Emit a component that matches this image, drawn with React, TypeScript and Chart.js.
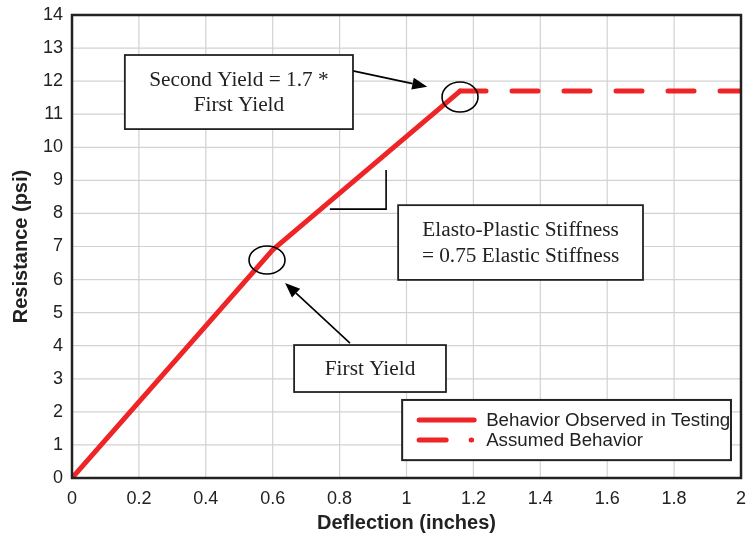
import React, { useEffect, useRef } from "react";
import { Chart, registerables } from "chart.js";

Chart.register(...registerables);

// Data (deflection in inches, resistance in psi)
const observedX = [0, 0.6, 1.16];
const observedY = [0, 6.9, 11.7];
const assumedX = [1.16, 2];
const assumedY = [11.7, 11.7];

const xTickValues = [0, 0.2, 0.4, 0.6, 0.8, 1, 1.2, 1.4, 1.6, 1.8, 2];
const yTickValues = [0, 1, 2, 3, 4, 5, 6, 7, 8, 9, 10, 11, 12, 13, 14];

const seriesNames = ["Behavior Observed in Testing", "Assumed Behavior"];
const box1Lines = ["Second Yield = 1.7 *", "First Yield"];
const box2Lines = ["Elasto-Plastic Stiffness", "= 0.75 Elastic Stiffness"];
const box3Lines = ["First Yield"];

const RED = "#ee2427";
const INK = "#222222";
const GRID = "#d2d2d2";
const SANS = "'Liberation Sans', Arial, sans-serif";
const SERIF = "'Liberation Serif', 'Times New Roman', serif";

const gridPlugin = {
  id: "manualGrid",
  beforeDatasetsDraw(chart: any) {
    const ctx = chart.ctx as CanvasRenderingContext2D;
    const xs = chart.scales.x;
    const ys = chart.scales.y;
    const a = chart.chartArea;
    ctx.save();
    ctx.strokeStyle = GRID;
    ctx.lineWidth = 1.2;
    ctx.beginPath();
    xTickValues.forEach((v) => {
      const px = xs.getPixelForValue(v);
      ctx.moveTo(px, a.top);
      ctx.lineTo(px, a.bottom);
    });
    yTickValues.forEach((v) => {
      const py = ys.getPixelForValue(v);
      ctx.moveTo(a.left, py);
      ctx.lineTo(a.right, py);
    });
    ctx.stroke();
    ctx.restore();
  },
};

const annotationPlugin = {
  id: "annots",
  afterDraw(chart: any) {
    const ctx = chart.ctx as CanvasRenderingContext2D;
    const xs = chart.scales.x;
    const ys = chart.scales.y;
    const X = (v: number) => xs.getPixelForValue(v);
    const Y = (v: number) => ys.getPixelForValue(v);
    const area = chart.chartArea;
    ctx.save();

    // Plot border
    ctx.strokeStyle = INK;
    ctx.lineWidth = 2.5;
    ctx.strokeRect(area.left, area.top, area.right - area.left, area.bottom - area.top);

    const box = (x0: number, y0: number, x1: number, y1: number, lines: string[], lh: number) => {
      const l = X(x0), r = X(x1), t = Y(y0), b = Y(y1);
      ctx.fillStyle = "#ffffff";
      ctx.fillRect(l, t, r - l, b - t);
      ctx.strokeStyle = INK;
      ctx.lineWidth = 1.8;
      ctx.strokeRect(l, t, r - l, b - t);
      ctx.fillStyle = INK;
      ctx.font = `21.3px ${SERIF}`;
      ctx.textAlign = "center";
      ctx.textBaseline = "middle";
      const cx = (l + r) / 2;
      const cy = (t + b) / 2;
      const start = cy - ((lines.length - 1) * lh) / 2;
      lines.forEach((s, i) => ctx.fillText(s, cx, start + i * lh + 1));
    };

    const arrow = (x0: number, y0: number, x1: number, y1: number) => {
      const ax = X(x0), ay = Y(y0), bx = X(x1), by = Y(y1);
      const ang = Math.atan2(by - ay, bx - ax);
      const hl = 15, hw = 6;
      const baseX = bx - hl * Math.cos(ang);
      const baseY = by - hl * Math.sin(ang);
      ctx.strokeStyle = "#000";
      ctx.lineWidth = 1.6;
      ctx.beginPath();
      ctx.moveTo(ax, ay);
      ctx.lineTo(baseX, baseY);
      ctx.stroke();
      ctx.fillStyle = "#000";
      ctx.beginPath();
      ctx.moveTo(bx, by);
      ctx.lineTo(baseX + hw * Math.sin(ang), baseY - hw * Math.cos(ang));
      ctx.lineTo(baseX - hw * Math.sin(ang), baseY + hw * Math.cos(ang));
      ctx.closePath();
      ctx.fill();
    };

    const ellipse = (x: number, y: number, rx: number, ry: number) => {
      ctx.strokeStyle = "#000";
      ctx.lineWidth = 1.6;
      ctx.beginPath();
      ctx.ellipse(X(x), Y(y), rx, ry, 0, 0, Math.PI * 2);
      ctx.stroke();
    };

    // Circles at yield points
    ellipse(1.16, 11.52, 18, 15);
    ellipse(0.583, 6.59, 18, 14);

    // Right-angle stiffness marker
    ctx.strokeStyle = "#000";
    ctx.lineWidth = 1.6;
    ctx.beginPath();
    ctx.moveTo(X(0.939), Y(9.31));
    ctx.lineTo(X(0.939), Y(8.13));
    ctx.lineTo(X(0.771), Y(8.13));
    ctx.stroke();

    // Arrows
    arrow(0.84, 12.31, 1.062, 11.83);
    arrow(0.831, 4.08, 0.637, 5.9);

    // Text boxes
    box(0.158, 12.79, 0.84, 10.55, box1Lines, 25);
    box(0.975, 8.25, 1.707, 5.99, box2Lines, 26);
    box(0.664, 4.02, 1.118, 2.6, box3Lines, 24);

    // Legend
    const ll = X(0.987), lr = X(1.97), lt = Y(2.36), lb = Y(0.54);
    ctx.fillStyle = "#ffffff";
    ctx.fillRect(ll, lt, lr - ll, lb - lt);
    ctx.strokeStyle = INK;
    ctx.lineWidth = 2;
    ctx.strokeRect(ll, lt, lr - ll, lb - lt);
    ctx.lineCap = "round";
    ctx.strokeStyle = RED;
    ctx.lineWidth = 5;
    const r1 = lt + 20, r2 = lt + 40;
    ctx.beginPath();
    ctx.moveTo(ll + 17, r1);
    ctx.lineTo(ll + 72, r1);
    ctx.stroke();
    ctx.beginPath();
    ctx.moveTo(ll + 17, r2);
    ctx.lineTo(ll + 44, r2);
    ctx.stroke();
    ctx.beginPath();
    ctx.moveTo(ll + 69, r2);
    ctx.lineTo(ll + 69.5, r2);
    ctx.stroke();
    ctx.fillStyle = INK;
    ctx.font = `18.7px ${SANS}`;
    ctx.textAlign = "left";
    ctx.textBaseline = "middle";
    ctx.fillText(seriesNames[0], ll + 84, r1 + 1);
    ctx.fillText(seriesNames[1], ll + 84, r2 + 1);

    ctx.restore();
  },
};

export default function App() {
  const ref = useRef<HTMLCanvasElement>(null);
  useEffect(() => {
    if (!ref.current) return;
    const chart = new Chart(ref.current, {
      type: "line",
      data: {
        datasets: [
          {
            label: seriesNames[0],
            data: observedX.map((x, i) => ({ x, y: observedY[i] })),
            borderColor: RED,
            borderWidth: 5,
            pointRadius: 0,
            borderCapStyle: "round",
            borderJoinStyle: "round",
            fill: false,
          },
          {
            label: seriesNames[1],
            data: assumedX.map((x, i) => ({ x, y: assumedY[i] })),
            borderColor: RED,
            borderWidth: 5,
            borderDash: [26, 26],
            borderCapStyle: "round",
            pointRadius: 0,
            fill: false,
          },
        ],
      },
      options: {
        animation: false,
        responsive: false,
        maintainAspectRatio: false,
        layout: { padding: { left: 0, right: 7, top: 15, bottom: 0 } },
        plugins: { legend: { display: false }, tooltip: { enabled: false } },
        scales: {
          x: {
            type: "linear",
            min: 0,
            max: 2,
            afterFit: (s: any) => {
              s.height = 60;
              s.paddingLeft = 0;
              s.paddingRight = 0;
            },
            afterBuildTicks: (s: any) => {
              s.ticks = xTickValues.map((v) => ({ value: v }));
            },
            ticks: {
              color: INK,
              font: { family: SANS, size: 18 },
              padding: 10,
              maxRotation: 0,
              autoSkip: false,
              callback: (v: any) => String(Math.round(Number(v) * 10) / 10),
            },
            grid: { display: false, drawTicks: false },
            border: { display: false },
            title: {
              display: true,
              text: "Deflection (inches)",
              color: INK,
              font: { family: SANS, size: 20, weight: "bold" },
              padding: { top: 1, bottom: 3 },
            },
          },
          y: {
            type: "linear",
            min: 0,
            max: 14,
            afterFit: (s: any) => {
              s.width = 72;
              s.paddingTop = 0;
              s.paddingBottom = 0;
            },
            afterBuildTicks: (s: any) => {
              s.ticks = yTickValues.map((v) => ({ value: v }));
            },
            ticks: {
              color: INK,
              font: { family: SANS, size: 18 },
              padding: 9,
              autoSkip: false,
            },
            grid: { display: false, drawTicks: false },
            border: { display: false },
            title: {
              display: true,
              text: "Resistance (psi)",
              color: INK,
              font: { family: SANS, size: 20, weight: "bold" },
              padding: { top: 9, bottom: 0 },
            },
          },
        },
      },
      plugins: [gridPlugin, annotationPlugin],
    });
    return () => chart.destroy();
  }, []);
  return (
    <div style={{ position: "fixed", left: 0, top: 0, width: 748, height: 538, background: "#fff" }}>
      <canvas ref={ref} width={748} height={538} style={{ width: 748, height: 538 }} />
    </div>
  );
}
